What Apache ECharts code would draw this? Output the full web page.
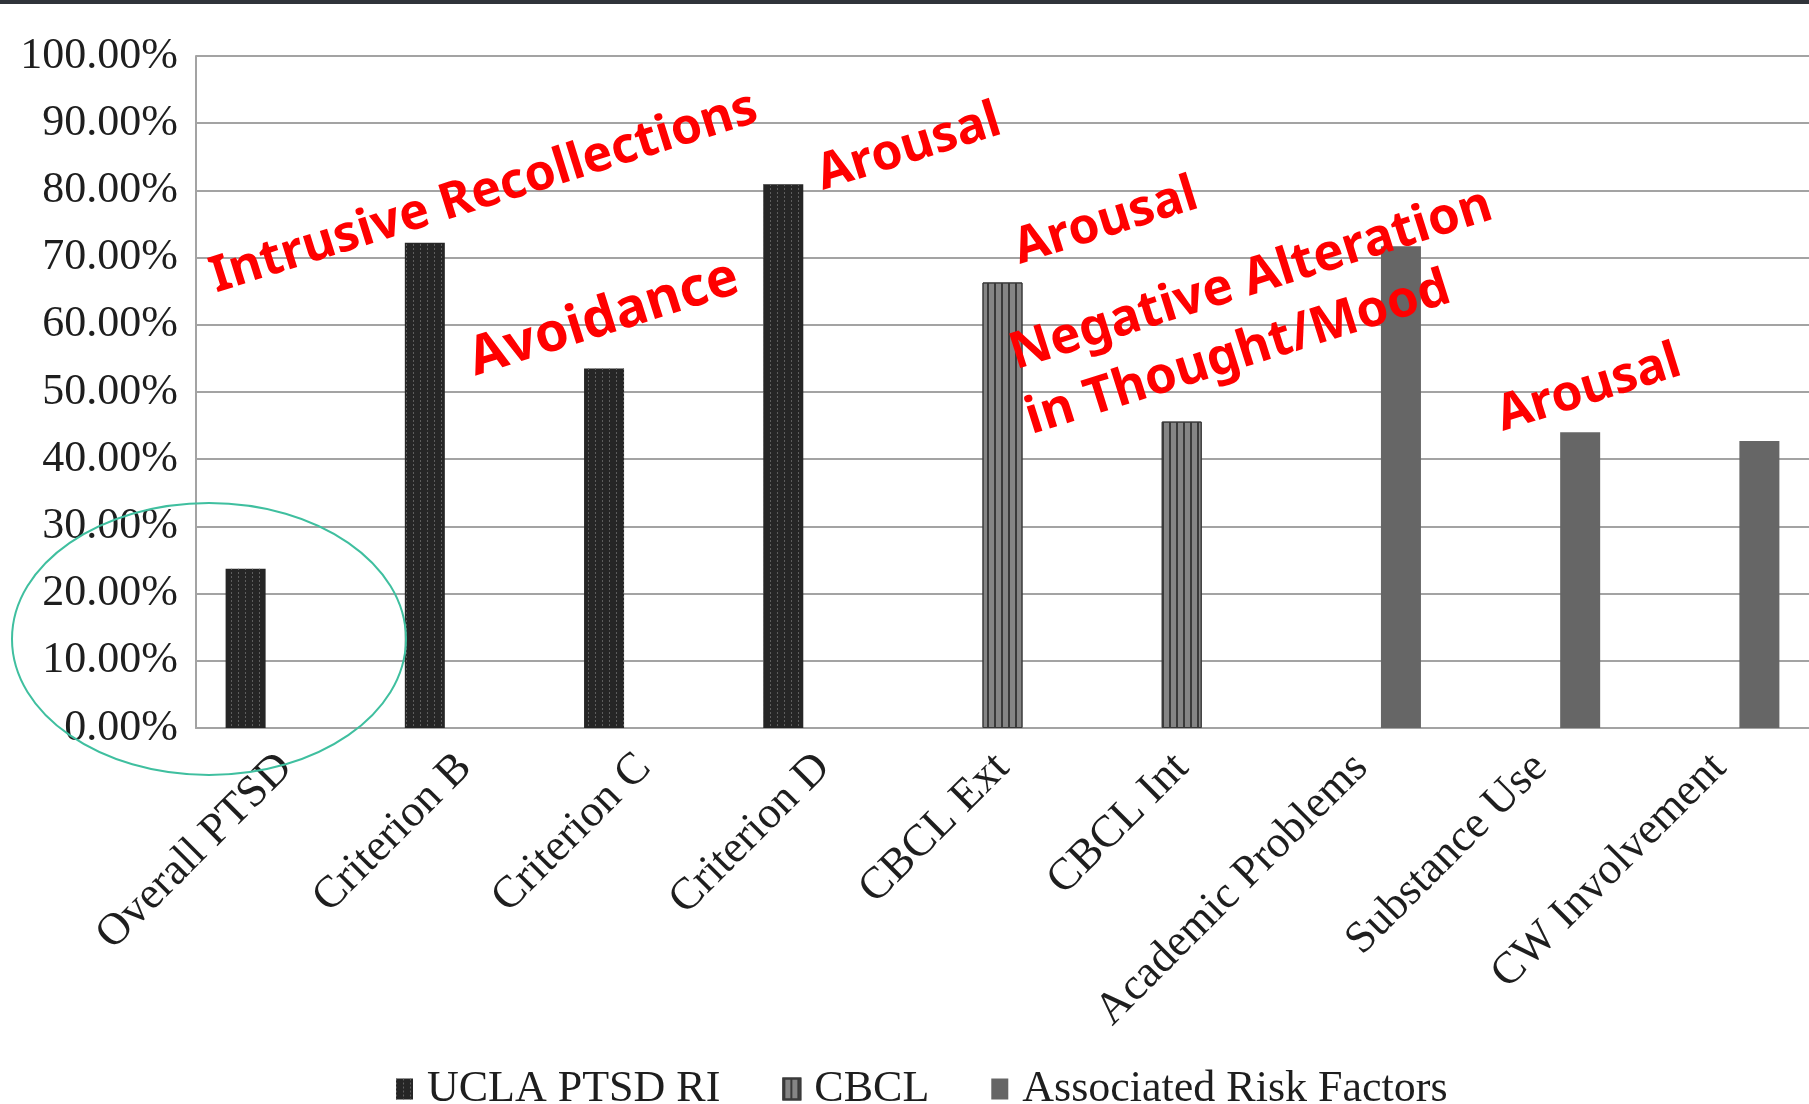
<!DOCTYPE html>
<html>
<head>
<meta charset="utf-8">
<script src="https://cdn.jsdelivr.net/npm/echarts@6/dist/echarts.min.js"></script>
<style>
  html, body { margin: 0; padding: 0; background: #ffffff; }
  #chart { width: 1809px; height: 1104px; }
</style>
</head>
<body>
<div id="chart"></div>
<script>
// Categories along the x axis
const categories = [
  'Overall PTSD', 'Criterion B', 'Criterion C', 'Criterion D',
  'CBCL Ext', 'CBCL Int', 'Academic Problems', 'Substance Use', 'CW Involvement'
];

// Percent of youth meeting each threshold, one array per measure
const uclaPtsdRi = [23.7, 72.2, 53.5, 80.9, '-', '-', '-', '-', '-'];
const cbcl = ['-', '-', '-', '-', 66.3, 45.6, '-', '-', '-'];
const riskFactors = ['-', '-', '-', '-', '-', '-', 71.7, 44.0, 42.7];

const seriesNames = ['UCLA PTSD RI', 'CBCL', 'Associated Risk Factors'];

// Y axis range and step (percent)
const yMin = 0, yMax = 100, yStep = 10;

// Red callouts naming the PTSD symptom clusters
const callouts = [
  { text: 'Intrusive Recollections', x: 484, y: 193, size: 50 },
  { text: 'Arousal', x: 909, y: 148, size: 50 },
  { text: 'Avoidance', x: 604, y: 319, size: 54 },
  { text: 'Arousal', x: 1106, y: 222, size: 50 },
  { text: 'Negative Alteration', x: 1251, y: 280, size: 51 },
  { text: 'in Thought/Mood', x: 1238, y: 354, size: 51 },
  { text: 'Arousal', x: 1589, y: 389, size: 50 }
];

const serif = '"Liberation Serif", "Times New Roman", serif';
const gridColor = '#a3a3a3';

const chart = echarts.init(document.getElementById('chart'), null, { renderer: 'canvas' });

const barStyles = [
  { color: '#262626', decal: { symbol: 'rect', symbolSize: 1, dashArrayX: [1, 6], dashArrayY: [2, 2], color: '#5e5e5e' } },
  { color: '#858585', borderColor: '#3a3a3a', borderWidth: 1,
    decal: { symbol: 'rect', symbolSize: 1, dashArrayX: [2, 5], dashArrayY: [1, 0], color: '#3a3a3a' } },
  { color: '#666666' }
];

const seriesData = [uclaPtsdRi, cbcl, riskFactors];

chart.setOption({
  backgroundColor: '#ffffff',
  animation: false,
  grid: { left: 196, top: 56, width: 1614, height: 672, containLabel: false },
  legend: {
    data: seriesNames,
    left: 391,
    top: 1062,
    icon: 'rect',
    itemWidth: 17,
    itemHeight: 21,
    itemGap: 62,
    textStyle: { fontFamily: serif, fontSize: 44, color: '#1e1e1e', padding: [0, 0, 0, 9] }
  },
  xAxis: {
    type: 'category',
    data: categories,
    axisLine: { show: true, lineStyle: { color: gridColor, width: 2 } },
    axisTick: { show: false },
    axisLabel: {
      interval: 0,
      rotate: 45,
      margin: 33,
      fontFamily: serif,
      fontSize: 45,
      color: '#1e1e1e'
    }
  },
  yAxis: {
    type: 'value',
    min: yMin,
    max: yMax,
    interval: yStep,
    axisLine: { show: true, lineStyle: { color: gridColor, width: 2 } },
    axisTick: { show: false },
    splitLine: { show: true, lineStyle: { color: gridColor, width: 2 } },
    axisLabel: {
      margin: 18,
      fontFamily: serif,
      fontSize: 44,
      color: '#1e1e1e',
      formatter: v => v.toFixed(2) + '%'
    }
  },
  series: seriesNames.map((name, i) => ({
    name: name,
    type: 'bar',
    data: seriesData[i],
    barWidth: 40,
    barGap: '0%',
    itemStyle: barStyles[i]
  })),
  graphic: [
    // dark strip along the top edge
    { type: 'rect', shape: { x: 0, y: 0, width: 1809, height: 4 }, style: { fill: '#30343a' }, z: 100 },
    // teal ring around the overall PTSD bar
    { type: 'ellipse', shape: { cx: 209, cy: 639, rx: 197, ry: 136 },
      style: { fill: 'none', stroke: '#3fbf9f', lineWidth: 2 }, z: 100 }
  ].concat(callouts.map(c => ({
    type: 'text',
    x: c.x,
    y: c.y,
    rotation: 17.5 * Math.PI / 180,
    z: 100,
    style: {
      text: c.text,
      fill: '#ff0000',
      font: 'bold ' + c.size + 'px "Noto Sans", sans-serif',
      align: 'center',
      verticalAlign: 'middle'
    }
  })))
});
</script>
</body>
</html>
